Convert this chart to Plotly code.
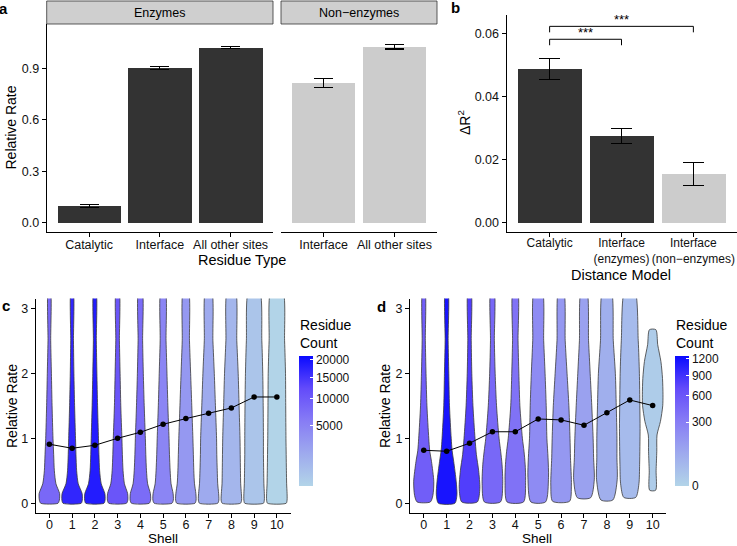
import numpy as np
import plotly.graph_objects as go
from plotly.colors import sample_colorscale

W, H = 737, 546
FONT = "Liberation Sans, Arial, sans-serif"

# ---- panel a: relative rate by residue type
enz_types = ["Catalytic", "Interface", "All other sites"]
enz_rate = [0.097, 0.903, 1.021]
enz_err = [0.008, 0.008, 0.004]
non_types = ["Interface", "All other sites"]
non_rate = [0.814, 1.025]
non_err = [0.026, 0.013]

# ---- panel b: delta R^2 by distance model
models = ["Catalytic", "Interface<br>(enzymes)", "Interface<br>(non−enzymes)"]
delta_r2 = [0.0488, 0.0275, 0.0155]
delta_err = [0.0033, 0.0023, 0.0036]
model_is_enzyme = [True, True, False]
sig_from = [0, 0]
sig_to = [1, 2]
sig_y = [0.0582, 0.0623]
sig_label = ["***", "***"]

# ---- panel c: enzymes, violins per shell (half widths read at rate levels)
shells = list(range(11))
c_levels = [0, 0.05, 0.15, 0.3, 0.5, 0.75, 1.0, 1.5, 2.0, 2.5, 3.3]
c_half = [
    [0.38, 0.44, 0.45, 0.29, 0.22, 0.19, 0.16, 0.12, 0.09, 0.06, 0.04],
    [0.40, 0.45, 0.44, 0.27, 0.20, 0.17, 0.15, 0.11, 0.08, 0.06, 0.04],
    [0.40, 0.45, 0.44, 0.28, 0.21, 0.18, 0.16, 0.12, 0.09, 0.065, 0.045],
    [0.39, 0.45, 0.44, 0.30, 0.24, 0.21, 0.19, 0.14, 0.11, 0.08, 0.055],
    [0.39, 0.45, 0.44, 0.32, 0.27, 0.24, 0.22, 0.17, 0.13, 0.10, 0.07],
    [0.39, 0.45, 0.44, 0.35, 0.31, 0.28, 0.26, 0.21, 0.17, 0.13, 0.085],
    [0.40, 0.45, 0.44, 0.38, 0.35, 0.33, 0.31, 0.26, 0.21, 0.16, 0.10],
    [0.40, 0.45, 0.44, 0.40, 0.38, 0.36, 0.35, 0.30, 0.25, 0.19, 0.12],
    [0.40, 0.45, 0.44, 0.41, 0.40, 0.39, 0.38, 0.34, 0.30, 0.24, 0.16],
    [0.41, 0.45, 0.45, 0.43, 0.42, 0.41, 0.41, 0.40, 0.38, 0.34, 0.22],
    [0.41, 0.45, 0.45, 0.43, 0.42, 0.41, 0.40, 0.39, 0.38, 0.34, 0.24],
]
c_count = [8100, 17000, 18500, 10800, 7600, 4800, 3000, 1700, 1000, 360, 44]
c_mean = [0.908, 0.846, 0.892, 1.0, 1.092, 1.215, 1.302, 1.385, 1.466, 1.635, 1.635]
c_cbar_ticks = [5000, 10000, 15000, 20000]
c_cbar_range = [41, 21200]

# ---- panel d: non-enzymes
d_levels = [
    [0.02, 0.12, 0.33, 0.64, 0.81, 1.0, 1.5, 2.0, 2.5, 3.3],
    [0.0, 0.13, 0.33, 0.64, 0.81, 1.0, 1.5, 2.0, 2.5, 3.3],
    [0.02, 0.23, 0.5, 0.75, 1.0, 1.5, 2.0, 2.5, 3.3],
    [0.02, 0.3, 0.6, 0.8, 1.0, 1.5, 2.0, 2.5, 3.3],
    [0.02, 0.35, 0.6, 0.8, 1.0, 1.5, 2.0, 2.5, 3.3],
    [0.02, 0.4, 0.7, 1.0, 1.5, 2.0, 2.5, 3.3],
    [0.03, 0.28, 0.7, 1.0, 1.5, 2.0, 2.5, 3.3],
    [0.085, 0.36, 0.7, 1.0, 1.5, 2.0, 2.5, 3.3],
    [0.05, 0.36, 0.7, 1.0, 1.5, 2.0, 2.5, 3.3],
    [0.09, 0.3, 0.6, 1.15, 1.5, 2.0, 2.5, 3.3],
    [0.2, 0.5, 0.8, 1.05, 1.26, 1.5, 1.67, 1.92, 2.18, 2.44, 2.67],
]
d_half = [
    [0.29, 0.40, 0.44, 0.34, 0.26, 0.22, 0.14, 0.10, 0.07, 0.045],
    [0.36, 0.45, 0.42, 0.31, 0.24, 0.20, 0.125, 0.095, 0.066, 0.05],
    [0.34, 0.45, 0.40, 0.30, 0.24, 0.15, 0.10, 0.075, 0.055],
    [0.35, 0.45, 0.42, 0.36, 0.29, 0.18, 0.12, 0.085, 0.065],
    [0.36, 0.45, 0.43, 0.38, 0.31, 0.20, 0.155, 0.12, 0.09],
    [0.32, 0.45, 0.43, 0.38, 0.35, 0.30, 0.24, 0.16],
    [0.37, 0.45, 0.41, 0.39, 0.34, 0.26, 0.18, 0.10],
    [0.29, 0.45, 0.42, 0.40, 0.34, 0.27, 0.20, 0.11],
    [0.26, 0.45, 0.44, 0.44, 0.41, 0.37, 0.28, 0.17],
    [0.26, 0.40, 0.43, 0.45, 0.44, 0.42, 0.37, 0.20],
    [0.13, 0.15, 0.18, 0.19, 0.34, 0.44, 0.45, 0.43, 0.36, 0.22, 0.14],
]
d_count = [530, 1150, 800, 450, 380, 220, 150, 110, 60, 28, 3]
d_mean = [0.815, 0.80, 0.923, 1.10, 1.10, 1.297, 1.282, 1.20, 1.394, 1.589, 1.502]
d_cbar_ticks = [0, 300, 600, 900, 1200]
d_cbar_range = [0, 1247]

# lightblue -> blue, interpolated like ggplot (Lab)
fill_scale = [[0.0, "rgb(178,212,232)"], [0.25, "rgb(158,170,238)"],
              [0.5, "rgb(135,124,245)"], [0.75, "rgb(99,75,250)"],
              [1.0, "rgb(10,10,255)"]]


def fx(p):
    return p / W


def fy(p):
    return 1 - p / H


fig = go.Figure()

# panel a bars
fig.add_trace(go.Bar(x=enz_types, y=enz_rate, width=0.9, marker_color="#333333",
                     marker_line_width=0,
                     error_y=dict(type="data", array=enz_err, color="black",
                                  thickness=1.2, width=9.5),
                     xaxis="x", yaxis="y", showlegend=False))
fig.add_trace(go.Bar(x=non_types, y=non_rate, width=0.9, marker_color="#cccccc",
                     marker_line_width=0,
                     error_y=dict(type="data", array=non_err, color="black",
                                  thickness=1.2, width=9.5),
                     xaxis="x2", yaxis="y2", showlegend=False))

# panel b bars
fig.add_trace(go.Bar(x=models, y=delta_r2, width=0.9,
                     marker_color=["#333333" if e else "#cccccc" for e in model_is_enzyme],
                     marker_line_width=0,
                     error_y=dict(type="data", array=delta_err, color="black",
                                  thickness=1.2, width=10.5),
                     xaxis="x3", yaxis="y3", showlegend=False))
drop = 0.0019
for i, j, yv in zip(sig_from, sig_to, sig_y):
    fig.add_trace(go.Scatter(x=[models[i], models[i], models[j], models[j]],
                             y=[yv - drop, yv, yv, yv - drop], mode="lines",
                             line=dict(color="black", width=1),
                             xaxis="x3", yaxis="y3", showlegend=False,
                             hoverinfo="skip"))


def add_violins(levels, halfs, counts, means, rng, ticks, xa, ya, cbar_x):
    lo, hi = np.sqrt(rng[0]), np.sqrt(rng[1])
    for s in shells:
        lv = levels[s] if isinstance(levels[s], list) else levels
        hw = halfs[s]
        t = (np.sqrt(counts[s]) - lo) / (hi - lo)
        col = sample_colorscale(fill_scale, [min(max(t, 0), 1)])[0]
        xs = [s + w for w in hw] + [s - w for w in hw[::-1]] + [s + hw[0]]
        ys = list(lv) + list(lv[::-1]) + [lv[0]]
        fig.add_trace(go.Scatter(x=xs, y=ys, mode="lines", fill="toself",
                                 fillcolor=col,
                                 line=dict(color="#3a3a3a", width=0.8,
                                           shape="spline", smoothing=0.7),
                                 xaxis=xa, yaxis=ya, showlegend=False,
                                 hoverinfo="skip"))
    fig.add_trace(go.Scatter(x=shells, y=means, mode="lines+markers",
                             line=dict(color="black", width=1),
                             marker=dict(color="black", size=5.5),
                             xaxis=xa, yaxis=ya, showlegend=False))
    fig.add_trace(go.Scatter(
        x=shells, y=means, mode="markers", xaxis=xa, yaxis=ya, showlegend=False,
        hoverinfo="skip",
        marker=dict(opacity=0, color=np.sqrt(counts), colorscale=fill_scale,
                    cmin=lo, cmax=hi, showscale=True,
                    colorbar=dict(x=fx(cbar_x), xanchor="left", y=fy(421),
                                  yanchor="middle", len=130 / H,
                                  thickness=14, outlinewidth=0,
                                  xpad=0, ypad=0,
                                  tickvals=np.sqrt(ticks), ticktext=[str(v) for v in ticks],
                                  ticks="inside", ticklen=3, tickcolor="white",
                                  tickfont=dict(size=12, color="#111111",
                                                family=FONT)))))


add_violins(c_levels, c_half, c_count, c_mean, c_cbar_range, c_cbar_ticks,
            "x4", "y4", 299.3)
add_violins(d_levels, d_half, d_count, d_mean, d_cbar_range, d_cbar_ticks,
            "x5", "y5", 675)

axis_style = dict(showline=True, linecolor="black", linewidth=1, ticks="outside",
                  ticklen=4, tickcolor="black", showgrid=False, zeroline=False,
                  automargin=False, tickangle=0,
                  tickfont=dict(size=12.5, color="#111111", family=FONT))
x_style = dict(axis_style, ticklabelstandoff=-3)
shell_style = dict(axis_style, ticklabelstandoff=-4)
b_style = dict(x_style, ticklabelstandoff=-4,
               tickfont=dict(size=12, color="#111111", family=FONT))

row1 = [fy(232), fy(24)]
row2 = [fy(513), fy(298.5)]
fig.update_layout(
    width=W, height=H, margin=dict(l=0, r=0, t=0, b=0, autoexpand=False),
    paper_bgcolor="white", plot_bgcolor="white", bargap=0,
    font=dict(family=FONT, color="black"),
    xaxis=dict(domain=[fx(46.7), fx(273)], anchor="y", range=[-0.6, 2.6], **x_style),
    yaxis=dict(domain=row1, anchor="x", range=[-0.054, 1.158],
               tickvals=[0, 0.3, 0.6, 0.9], ticktext=["0.0", "0.3", "0.6", "0.9"],
               **axis_style),
    xaxis2=dict(domain=[fx(281), fx(437)], anchor="y2", range=[-0.6, 1.6], **x_style),
    yaxis2=dict(domain=row1, anchor="x2", range=[-0.054, 1.158], visible=False),
    xaxis3=dict(domain=[fx(506.5), fx(736.5)], anchor="y3", range=[-0.6, 2.6], **b_style),
    yaxis3=dict(domain=[fy(232), fy(15)], anchor="x3", range=[-0.00295, 0.0659],
                tickvals=[0, 0.02, 0.04, 0.06],
                ticktext=["0.00", "0.02", "0.04", "0.06"], **axis_style),
    xaxis4=dict(domain=[fx(35.7), fx(290.5)], anchor="y4", range=[-0.6, 10.6],
                tickvals=shells, **shell_style),
    yaxis4=dict(domain=row2, anchor="x4", range=[-0.15, 3.15], tickvals=[0, 1, 2, 3],
                **axis_style),
    xaxis5=dict(domain=[fx(410), fx(666.4)], anchor="y5", range=[-0.6, 10.6],
                tickvals=shells, **shell_style),
    yaxis5=dict(domain=row2, anchor="x5", range=[-0.15, 3.15], tickvals=[0, 1, 2, 3],
                **axis_style),
)


def label(text, x, y, size=14, angle=0, xanchor="center"):
    fig.add_annotation(x=fx(x), y=fy(y), xref="paper", yref="paper", text=text,
                       showarrow=False, textangle=angle, xanchor=xanchor,
                       yanchor="middle", align="left", borderpad=0,
                       font=dict(size=size, color="black", family=FONT))


# facet strips
for x0, x1, name in [(46.7, 273, "Enzymes"), (281, 437, "Non−enzymes")]:
    fig.add_shape(type="rect", xref="paper", yref="paper", x0=fx(x0), x1=fx(x1),
                  y0=fy(24), y1=fy(1), fillcolor="#cfcfcf",
                  line=dict(color="#333333", width=0.8), layer="below")
    label(name, (x0 + x1) / 2, 12.5, 12.5)

label("<b>a</b>", 4, 8.5, 15)
label("<b>b</b>", 456, 8, 15)
label("<b>c</b>", 6, 305.5, 15)
label("<b>d</b>", 381, 306, 15)
label("Relative Rate", 10.5, 128, 14, -90)
label("Residue Type", 242, 260, 14.5)
label("ΔR<sup>2</sup>", 464, 123, 14, -90)
label("Distance Model", 621, 275, 14.5)
label("Relative Rate", 12, 406, 14, -90)
label("Shell", 163, 538.5, 13.5)
label("Relative Rate", 385, 406, 14, -90)
label("Shell", 537, 538.5, 13.5)
label("Residue<br>Count", 299.3, 334, 14, xanchor="left")
label("Residue<br>Count", 675, 334, 14, xanchor="left")

for i, j, yv, txt in zip(sig_from, sig_to, sig_y, sig_label):
    fig.add_annotation(x=(i + j) / 2, y=yv, xref="x3", yref="y3", text=txt,
                       showarrow=False, yanchor="bottom", yshift=-3,
                       font=dict(size=13, color="black", family=FONT))

fig.write_html("out.html", config={"displayModeBar": False},
               post_script="document.body.style.margin='0';")
